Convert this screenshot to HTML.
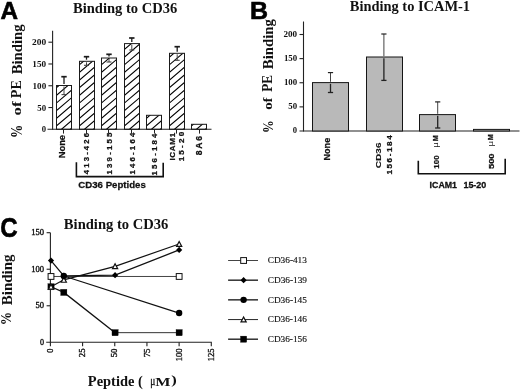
<!DOCTYPE html>
<html><head><meta charset="utf-8"><style>
html,body{margin:0;padding:0;background:#fff;}
body{width:520px;height:390px;overflow:hidden;font-family:"Liberation Sans",sans-serif;}
svg{display:block;will-change:transform;}
</style></head><body>
<svg width="520" height="390" viewBox="0 0 520 390">

<rect width="520" height="390" fill="#fff"/>
<text transform="translate(0.51 18.50) scale(0.9933 1)" font-family="'Liberation Sans', sans-serif" font-weight="bold" font-size="24.43" fill="#000" stroke="#000" stroke-width="0.6" xml:space="preserve">A</text>
<text transform="translate(72.95 12.87) scale(1.0086 1)" font-family="'Liberation Serif', serif" font-weight="bold" font-size="14.44" fill="#111" xml:space="preserve">Binding to CD36</text>
<text transform="translate(21.78 138.12) rotate(-90) scale(0.8317 1)" font-family="'Liberation Serif', serif" font-weight="bold" font-size="15.88" fill="#111" xml:space="preserve">%</text>
<text transform="translate(21.47 115.40) rotate(-90) scale(1.2891 1)" font-family="'Liberation Serif', serif" font-weight="bold" font-size="13.06" fill="#111" xml:space="preserve">of</text>
<text transform="translate(21.26 98.14) rotate(-90) scale(1.0048 1)" font-family="'Liberation Serif', serif" font-weight="bold" font-size="13.94" fill="#111" xml:space="preserve">PE</text>
<text transform="translate(21.78 74.35) rotate(-90) scale(0.9606 1)" font-family="'Liberation Serif', serif" font-weight="bold" font-size="15.33" fill="#111" xml:space="preserve">Binding</text>
<line x1="52.60" y1="30.80" x2="52.60" y2="129.80" stroke="#222" stroke-width="1.1"/>
<line x1="47.50" y1="129.30" x2="211.50" y2="129.30" stroke="#222" stroke-width="1.1"/>
<line x1="48.40" y1="107.53" x2="52.60" y2="107.53" stroke="#222" stroke-width="1.1"/>
<line x1="48.40" y1="85.75" x2="52.60" y2="85.75" stroke="#222" stroke-width="1.1"/>
<line x1="48.40" y1="63.98" x2="52.60" y2="63.98" stroke="#222" stroke-width="1.1"/>
<line x1="48.40" y1="42.20" x2="52.60" y2="42.20" stroke="#222" stroke-width="1.1"/>
<text transform="translate(41.84 132.44) scale(1.0875 1)" font-family="'Liberation Serif', serif" font-weight="bold" font-size="7.94" fill="#111" xml:space="preserve">0</text>
<text transform="translate(37.35 110.67) scale(1.1103 1)" font-family="'Liberation Serif', serif" font-weight="bold" font-size="7.94" fill="#111" xml:space="preserve">50</text>
<text transform="translate(32.57 88.89) scale(1.1415 1)" font-family="'Liberation Serif', serif" font-weight="bold" font-size="7.94" fill="#111" xml:space="preserve">100</text>
<text transform="translate(32.36 67.12) scale(1.1596 1)" font-family="'Liberation Serif', serif" font-weight="bold" font-size="7.94" fill="#111" xml:space="preserve">150</text>
<text transform="translate(32.02 45.34) scale(1.1888 1)" font-family="'Liberation Serif', serif" font-weight="bold" font-size="7.94" fill="#111" xml:space="preserve">200</text>
<clipPath id="c0"><rect x="56.50" y="85.50" width="15" height="43.80"/></clipPath>
<path clip-path="url(#c0)" d="M55.50 149.70 L72.50 135.18 M55.50 142.05 L72.50 127.53 M55.50 134.40 L72.50 119.88 M55.50 126.75 L72.50 112.23 M55.50 119.10 L72.50 104.58 M55.50 111.45 L72.50 96.93 M55.50 103.80 L72.50 89.28 M55.50 96.15 L72.50 81.63 M55.50 88.50 L72.50 73.98 M55.50 80.85 L72.50 66.33 M55.50 73.20 L72.50 58.68 M55.50 65.55 L72.50 51.03" stroke="#000" stroke-width="1.1" fill="none"/>
<rect x="56.50" y="85.50" width="15.00" height="43.80" fill="none" stroke="#1a1a1a" stroke-width="1.0"/>
<line x1="63.50" y1="129.30" x2="63.50" y2="133.60" stroke="#222" stroke-width="1.0"/>
<line x1="64.00" y1="76.70" x2="64.00" y2="83.90" stroke="#1a1a1a" stroke-width="1.3"/>
<line x1="61.30" y1="76.70" x2="66.70" y2="76.70" stroke="#1a1a1a" stroke-width="1.7"/>
<line x1="64.00" y1="86.50" x2="64.00" y2="94.60" stroke="#444" stroke-width="1.0"/>
<line x1="61.50" y1="94.60" x2="66.50" y2="94.60" stroke="#444" stroke-width="1.1"/>
<clipPath id="c1"><rect x="79.50" y="61.30" width="15" height="68.00"/></clipPath>
<path clip-path="url(#c1)" d="M78.50 149.70 L95.50 135.18 M78.50 142.05 L95.50 127.53 M78.50 134.40 L95.50 119.88 M78.50 126.75 L95.50 112.23 M78.50 119.10 L95.50 104.58 M78.50 111.45 L95.50 96.93 M78.50 103.80 L95.50 89.28 M78.50 96.15 L95.50 81.63 M78.50 88.50 L95.50 73.98 M78.50 80.85 L95.50 66.33 M78.50 73.20 L95.50 58.68 M78.50 65.55 L95.50 51.03 M78.50 57.90 L95.50 43.38 M78.50 50.25 L95.50 35.73 M78.50 42.60 L95.50 28.08" stroke="#000" stroke-width="1.1" fill="none"/>
<rect x="79.50" y="61.30" width="15.00" height="68.00" fill="none" stroke="#1a1a1a" stroke-width="1.0"/>
<line x1="86.50" y1="129.30" x2="86.50" y2="133.60" stroke="#222" stroke-width="1.0"/>
<line x1="86.50" y1="56.70" x2="86.50" y2="59.70" stroke="#1a1a1a" stroke-width="1.3"/>
<line x1="83.80" y1="56.70" x2="89.20" y2="56.70" stroke="#1a1a1a" stroke-width="1.7"/>
<line x1="86.50" y1="62.30" x2="86.50" y2="65.30" stroke="#444" stroke-width="1.0"/>
<line x1="84.00" y1="65.30" x2="89.00" y2="65.30" stroke="#444" stroke-width="1.1"/>
<clipPath id="c2"><rect x="101.50" y="58.00" width="15" height="71.30"/></clipPath>
<path clip-path="url(#c2)" d="M100.50 149.70 L117.50 135.18 M100.50 142.05 L117.50 127.53 M100.50 134.40 L117.50 119.88 M100.50 126.75 L117.50 112.23 M100.50 119.10 L117.50 104.58 M100.50 111.45 L117.50 96.93 M100.50 103.80 L117.50 89.28 M100.50 96.15 L117.50 81.63 M100.50 88.50 L117.50 73.98 M100.50 80.85 L117.50 66.33 M100.50 73.20 L117.50 58.68 M100.50 65.55 L117.50 51.03 M100.50 57.90 L117.50 43.38 M100.50 50.25 L117.50 35.73 M100.50 42.60 L117.50 28.08" stroke="#000" stroke-width="1.1" fill="none"/>
<rect x="101.50" y="58.00" width="15.00" height="71.30" fill="none" stroke="#1a1a1a" stroke-width="1.0"/>
<line x1="108.50" y1="129.30" x2="108.50" y2="133.60" stroke="#222" stroke-width="1.0"/>
<line x1="109.00" y1="54.30" x2="109.00" y2="56.40" stroke="#1a1a1a" stroke-width="1.3"/>
<line x1="106.30" y1="54.30" x2="111.70" y2="54.30" stroke="#1a1a1a" stroke-width="1.7"/>
<line x1="109.00" y1="59.00" x2="109.00" y2="62.00" stroke="#444" stroke-width="1.0"/>
<line x1="106.50" y1="62.00" x2="111.50" y2="62.00" stroke="#444" stroke-width="1.1"/>
<clipPath id="c3"><rect x="124.50" y="43.60" width="15" height="85.70"/></clipPath>
<path clip-path="url(#c3)" d="M123.50 149.70 L140.50 135.18 M123.50 142.05 L140.50 127.53 M123.50 134.40 L140.50 119.88 M123.50 126.75 L140.50 112.23 M123.50 119.10 L140.50 104.58 M123.50 111.45 L140.50 96.93 M123.50 103.80 L140.50 89.28 M123.50 96.15 L140.50 81.63 M123.50 88.50 L140.50 73.98 M123.50 80.85 L140.50 66.33 M123.50 73.20 L140.50 58.68 M123.50 65.55 L140.50 51.03 M123.50 57.90 L140.50 43.38 M123.50 50.25 L140.50 35.73 M123.50 42.60 L140.50 28.08 M123.50 34.95 L140.50 20.43 M123.50 27.30 L140.50 12.78" stroke="#000" stroke-width="1.1" fill="none"/>
<rect x="124.50" y="43.60" width="15.00" height="85.70" fill="none" stroke="#1a1a1a" stroke-width="1.0"/>
<line x1="131.50" y1="129.30" x2="131.50" y2="133.60" stroke="#222" stroke-width="1.0"/>
<line x1="131.80" y1="38.00" x2="131.80" y2="42.00" stroke="#1a1a1a" stroke-width="1.3"/>
<line x1="129.10" y1="38.00" x2="134.50" y2="38.00" stroke="#1a1a1a" stroke-width="1.7"/>
<line x1="131.80" y1="44.60" x2="131.80" y2="50.00" stroke="#444" stroke-width="1.0"/>
<line x1="129.30" y1="50.00" x2="134.30" y2="50.00" stroke="#444" stroke-width="1.1"/>
<clipPath id="c4"><rect x="146.50" y="115.30" width="15" height="14.00"/></clipPath>
<path clip-path="url(#c4)" d="M145.50 149.70 L162.50 135.18 M145.50 142.05 L162.50 127.53 M145.50 134.40 L162.50 119.88 M145.50 126.75 L162.50 112.23 M145.50 119.10 L162.50 104.58 M145.50 111.45 L162.50 96.93 M145.50 103.80 L162.50 89.28 M145.50 96.15 L162.50 81.63" stroke="#000" stroke-width="1.1" fill="none"/>
<rect x="146.50" y="115.30" width="15.00" height="14.00" fill="none" stroke="#1a1a1a" stroke-width="1.0"/>
<line x1="154.50" y1="129.30" x2="154.50" y2="133.60" stroke="#222" stroke-width="1.0"/>
<clipPath id="c5"><rect x="169.50" y="53.30" width="15" height="76.00"/></clipPath>
<path clip-path="url(#c5)" d="M168.50 149.70 L185.50 135.18 M168.50 142.05 L185.50 127.53 M168.50 134.40 L185.50 119.88 M168.50 126.75 L185.50 112.23 M168.50 119.10 L185.50 104.58 M168.50 111.45 L185.50 96.93 M168.50 103.80 L185.50 89.28 M168.50 96.15 L185.50 81.63 M168.50 88.50 L185.50 73.98 M168.50 80.85 L185.50 66.33 M168.50 73.20 L185.50 58.68 M168.50 65.55 L185.50 51.03 M168.50 57.90 L185.50 43.38 M168.50 50.25 L185.50 35.73 M168.50 42.60 L185.50 28.08 M168.50 34.95 L185.50 20.43" stroke="#000" stroke-width="1.1" fill="none"/>
<rect x="169.50" y="53.30" width="15.00" height="76.00" fill="none" stroke="#1a1a1a" stroke-width="1.0"/>
<line x1="176.50" y1="129.30" x2="176.50" y2="133.60" stroke="#222" stroke-width="1.0"/>
<line x1="177.20" y1="46.70" x2="177.20" y2="51.70" stroke="#1a1a1a" stroke-width="1.3"/>
<line x1="174.50" y1="46.70" x2="179.90" y2="46.70" stroke="#1a1a1a" stroke-width="1.7"/>
<line x1="177.20" y1="54.30" x2="177.20" y2="60.30" stroke="#444" stroke-width="1.0"/>
<line x1="174.70" y1="60.30" x2="179.70" y2="60.30" stroke="#444" stroke-width="1.1"/>
<clipPath id="c6"><rect x="191.50" y="124.30" width="15" height="5.00"/></clipPath>
<path clip-path="url(#c6)" d="M190.50 149.70 L207.50 135.18 M190.50 142.05 L207.50 127.53 M190.50 134.40 L207.50 119.88 M190.50 126.75 L207.50 112.23 M190.50 119.10 L207.50 104.58 M190.50 111.45 L207.50 96.93" stroke="#000" stroke-width="1.1" fill="none"/>
<rect x="191.50" y="124.30" width="15.00" height="5.00" fill="none" stroke="#1a1a1a" stroke-width="1.0"/>
<line x1="199.50" y1="129.30" x2="199.50" y2="133.60" stroke="#222" stroke-width="1.0"/>
<text transform="translate(65.49 158.34) rotate(-90) scale(1.1197 1)" font-family="'Liberation Sans', sans-serif" font-weight="bold" font-size="8.38" fill="#111" stroke="#111" stroke-width="0.25" xml:space="preserve">None</text>
<text transform="translate(88.60 174.15) rotate(-90) scale(1.0442 1)" font-family="'Liberation Sans', sans-serif" font-weight="bold" font-size="7.39" fill="#111" stroke="#111" stroke-width="0.25" xml:space="preserve">4 1 3 - 4 2 6</text>
<text transform="translate(111.60 174.55) rotate(-90) scale(1.0676 1)" font-family="'Liberation Sans', sans-serif" font-weight="bold" font-size="7.39" fill="#111" stroke="#111" stroke-width="0.25" xml:space="preserve">1 3 9 - 1 5 5</text>
<text transform="translate(135.00 174.55) rotate(-90) scale(1.0821 1)" font-family="'Liberation Sans', sans-serif" font-weight="bold" font-size="7.25" fill="#111" stroke="#111" stroke-width="0.25" xml:space="preserve">1 4 6 - 1 6 4</text>
<text transform="translate(157.01 175.45) rotate(-90) scale(1.1491 1)" font-family="'Liberation Sans', sans-serif" font-weight="bold" font-size="6.83" fill="#111" stroke="#111" stroke-width="0.25" xml:space="preserve">1 5 6 - 1 8 4</text>
<text transform="translate(174.70 160.56) rotate(-90) scale(1.0890 1)" font-family="'Liberation Sans', sans-serif" font-weight="bold" font-size="7.39" fill="#111" stroke="#111" stroke-width="0.25" xml:space="preserve">I C A M 1</text>
<text transform="translate(184.21 161.36) rotate(-90) scale(1.2839 1)" font-family="'Liberation Sans', sans-serif" font-weight="bold" font-size="6.27" fill="#111" stroke="#111" stroke-width="0.25" xml:space="preserve">1 5 - 2 0</text>
<text transform="translate(202.09 155.13) rotate(-90) scale(1.0262 1)" font-family="'Liberation Sans', sans-serif" font-weight="bold" font-size="8.38" fill="#111" stroke="#111" stroke-width="0.25" xml:space="preserve">8 A 6</text>
<path d="M76.4 162.3 V176.6 H163.2 V162.8" fill="none" stroke="#111" stroke-width="1.6"/>
<text transform="translate(78.34 187.85) scale(1.0025 1)" font-family="'Liberation Sans', sans-serif" font-weight="bold" font-size="9.63" fill="#111" stroke="#111" stroke-width="0.25" xml:space="preserve">CD36 Peptides</text>
<text transform="translate(250.00 18.60) scale(1.0147 1)" font-family="'Liberation Sans', sans-serif" font-weight="bold" font-size="24.64" fill="#000" stroke="#000" stroke-width="0.6" xml:space="preserve">B</text>
<text transform="translate(349.76 11.48) scale(1.0407 1)" font-family="'Liberation Serif', serif" font-weight="bold" font-size="13.89" fill="#111" xml:space="preserve">Binding to ICAM-1</text>
<text transform="translate(272.70 133.07) rotate(-90) scale(0.8395 1)" font-family="'Liberation Serif', serif" font-weight="bold" font-size="15.15" fill="#111" xml:space="preserve">%</text>
<text transform="translate(272.18 109.85) rotate(-90) scale(1.1902 1)" font-family="'Liberation Serif', serif" font-weight="bold" font-size="12.50" fill="#111" xml:space="preserve">of</text>
<text transform="translate(272.16 91.83) rotate(-90) scale(0.9671 1)" font-family="'Liberation Serif', serif" font-weight="bold" font-size="13.64" fill="#111" xml:space="preserve">PE</text>
<text transform="translate(272.88 69.15) rotate(-90) scale(1.0626 1)" font-family="'Liberation Serif', serif" font-weight="bold" font-size="13.89" fill="#111" xml:space="preserve">Binding</text>
<line x1="303.50" y1="21.50" x2="303.50" y2="131.50" stroke="#222" stroke-width="1.1"/>
<line x1="299.50" y1="131.00" x2="519.50" y2="131.00" stroke="#222" stroke-width="1.1"/>
<line x1="299.50" y1="106.88" x2="303.50" y2="106.88" stroke="#222" stroke-width="1.1"/>
<line x1="299.50" y1="82.75" x2="303.50" y2="82.75" stroke="#222" stroke-width="1.1"/>
<line x1="299.50" y1="58.62" x2="303.50" y2="58.62" stroke="#222" stroke-width="1.1"/>
<line x1="299.50" y1="34.50" x2="303.50" y2="34.50" stroke="#222" stroke-width="1.1"/>
<text transform="translate(292.84 133.45) scale(1.1294 1)" font-family="'Liberation Serif', serif" font-weight="bold" font-size="7.65" fill="#111" xml:space="preserve">0</text>
<text transform="translate(288.35 109.32) scale(1.1530 1)" font-family="'Liberation Serif', serif" font-weight="bold" font-size="7.65" fill="#111" xml:space="preserve">50</text>
<text transform="translate(283.89 85.20) scale(1.1572 1)" font-family="'Liberation Serif', serif" font-weight="bold" font-size="7.65" fill="#111" xml:space="preserve">100</text>
<text transform="translate(283.89 61.07) scale(1.1572 1)" font-family="'Liberation Serif', serif" font-weight="bold" font-size="7.65" fill="#111" xml:space="preserve">150</text>
<text transform="translate(283.54 36.95) scale(1.1888 1)" font-family="'Liberation Serif', serif" font-weight="bold" font-size="7.65" fill="#111" xml:space="preserve">200</text>
<rect x="312.50" y="82.60" width="36.00" height="48.40" fill="#b9b9b9" stroke="#151515" stroke-width="1.0"/>
<line x1="330.50" y1="72.60" x2="330.50" y2="81.80" stroke="#444" stroke-width="1.0"/>
<line x1="327.90" y1="72.60" x2="333.10" y2="72.60" stroke="#222" stroke-width="1.2"/>
<line x1="330.50" y1="83.80" x2="330.50" y2="92.50" stroke="#222" stroke-width="1.3"/>
<line x1="327.90" y1="92.50" x2="333.10" y2="92.50" stroke="#222" stroke-width="1.3"/>
<rect x="366.50" y="57.00" width="36.00" height="74.00" fill="#b9b9b9" stroke="#151515" stroke-width="1.0"/>
<line x1="383.90" y1="34.00" x2="383.90" y2="56.20" stroke="#444" stroke-width="1.0"/>
<line x1="381.30" y1="34.00" x2="386.50" y2="34.00" stroke="#222" stroke-width="1.2"/>
<line x1="383.90" y1="58.20" x2="383.90" y2="80.40" stroke="#222" stroke-width="1.3"/>
<line x1="381.30" y1="80.40" x2="386.50" y2="80.40" stroke="#222" stroke-width="1.3"/>
<rect x="419.50" y="114.60" width="36.00" height="16.40" fill="#b9b9b9" stroke="#151515" stroke-width="1.0"/>
<line x1="437.70" y1="101.90" x2="437.70" y2="113.80" stroke="#444" stroke-width="1.0"/>
<line x1="435.10" y1="101.90" x2="440.30" y2="101.90" stroke="#222" stroke-width="1.2"/>
<line x1="437.70" y1="115.80" x2="437.70" y2="128.00" stroke="#222" stroke-width="1.3"/>
<line x1="435.10" y1="128.00" x2="440.30" y2="128.00" stroke="#222" stroke-width="1.3"/>
<rect x="473.50" y="129.40" width="36.00" height="1.60" fill="#b9b9b9" stroke="#151515" stroke-width="1.0"/>
<text transform="translate(330.39 160.42) rotate(-90) scale(1.0623 1)" font-family="'Liberation Sans', sans-serif" font-weight="bold" font-size="8.52" fill="#111" stroke="#111" stroke-width="0.25" xml:space="preserve">None</text>
<text transform="translate(380.87 168.15) rotate(-90) scale(1.2727 1)" font-family="'Liberation Sans', sans-serif" font-weight="bold" font-size="7.89" fill="#111" stroke="#111" stroke-width="0.1" xml:space="preserve">CD36</text>
<text transform="translate(392.41 174.56) rotate(-90) scale(1.1573 1)" font-family="'Liberation Sans', sans-serif" font-weight="bold" font-size="6.97" fill="#111" stroke="#111" stroke-width="0.25" xml:space="preserve">1 5 6 - 1 8 4</text>
<text transform="translate(438.07 141.31) rotate(-90) scale(0.9491 1)" font-family="'Liberation Sans', sans-serif" font-weight="bold" font-size="7.64" fill="#111" stroke="#111" stroke-width="0.25" xml:space="preserve">M</text>
<text transform="translate(438.38 147.69) rotate(-90) scale(1.2098 1)" font-family="'Liberation Sans', sans-serif" font-weight="normal" font-size="8.08" fill="#111" xml:space="preserve">μ</text>
<text transform="translate(438.50 168.65) rotate(-90) scale(0.9950 1)" font-family="'Liberation Sans', sans-serif" font-weight="bold" font-size="7.96" fill="#111" stroke="#111" stroke-width="0.25" xml:space="preserve">100</text>
<text transform="translate(492.98 140.21) rotate(-90) scale(0.9491 1)" font-family="'Liberation Sans', sans-serif" font-weight="bold" font-size="7.64" fill="#111" stroke="#111" stroke-width="0.25" xml:space="preserve">M</text>
<text transform="translate(493.28 146.59) rotate(-90) scale(1.2098 1)" font-family="'Liberation Sans', sans-serif" font-weight="normal" font-size="8.08" fill="#111" xml:space="preserve">μ</text>
<text transform="translate(493.90 169.05) rotate(-90) scale(1.1725 1)" font-family="'Liberation Sans', sans-serif" font-weight="bold" font-size="7.96" fill="#111" stroke="#111" stroke-width="0.25" xml:space="preserve">500</text>
<path d="M418.3 160.7 V173.8 H505.2 V158.8" fill="none" stroke="#111" stroke-width="1.6"/>
<text transform="translate(429.62 187.66) scale(0.9605 1)" font-family="'Liberation Sans', sans-serif" font-weight="bold" font-size="9.15" fill="#111" stroke="#111" stroke-width="0.3" xml:space="preserve">ICAM1</text>
<text transform="translate(463.41 187.66) scale(0.9807 1)" font-family="'Liberation Sans', sans-serif" font-weight="bold" font-size="9.15" fill="#111" stroke="#111" stroke-width="0.3" xml:space="preserve">15-20</text>
<text transform="translate(0.14 237.23) scale(0.9002 1)" font-family="'Liberation Sans', sans-serif" font-weight="bold" font-size="26.76" fill="#000" stroke="#000" stroke-width="0.6" xml:space="preserve">C</text>
<text transform="translate(63.85 228.69) scale(1.0184 1)" font-family="'Liberation Serif', serif" font-weight="bold" font-size="14.33" fill="#111" xml:space="preserve">Binding to CD36</text>
<text transform="translate(12.00 305.15) rotate(-90) scale(0.9831 1)" font-family="'Liberation Serif', serif" font-weight="bold" font-size="15.22" fill="#111" xml:space="preserve">Binding</text>
<text transform="translate(10.51 325.33) rotate(-90) scale(0.9252 1)" font-family="'Liberation Serif', serif" font-weight="bold" font-size="14.41" fill="#111" xml:space="preserve">%</text>
<line x1="50.40" y1="232.70" x2="50.40" y2="342.80" stroke="#222" stroke-width="1.1"/>
<line x1="46.20" y1="342.30" x2="211.80" y2="342.30" stroke="#222" stroke-width="1.1"/>
<line x1="46.60" y1="305.77" x2="50.40" y2="305.77" stroke="#222" stroke-width="1.1"/>
<line x1="46.60" y1="269.23" x2="50.40" y2="269.23" stroke="#222" stroke-width="1.1"/>
<line x1="46.60" y1="232.70" x2="50.40" y2="232.70" stroke="#222" stroke-width="1.1"/>
<text transform="translate(40.03 344.96) scale(0.9885 1)" font-family="'Liberation Serif', serif" font-weight="normal" font-size="8.16" fill="#111" stroke="#111" stroke-width="0.35" xml:space="preserve">0</text>
<text transform="translate(35.55 308.43) scale(1.0454 1)" font-family="'Liberation Serif', serif" font-weight="normal" font-size="8.16" fill="#111" stroke="#111" stroke-width="0.35" xml:space="preserve">50</text>
<text transform="translate(31.29 271.90) scale(1.0445 1)" font-family="'Liberation Serif', serif" font-weight="normal" font-size="8.16" fill="#111" stroke="#111" stroke-width="0.35" xml:space="preserve">100</text>
<text transform="translate(31.29 235.36) scale(1.0445 1)" font-family="'Liberation Serif', serif" font-weight="normal" font-size="8.16" fill="#111" stroke="#111" stroke-width="0.35" xml:space="preserve">150</text>
<line x1="50.40" y1="342.30" x2="50.40" y2="346.30" stroke="#222" stroke-width="1.1"/>
<text transform="translate(52.96 352.67) rotate(-90) scale(1.0350 1)" font-family="'Liberation Serif', serif" font-weight="normal" font-size="8.01" fill="#111" stroke="#111" stroke-width="0.35" xml:space="preserve">0</text>
<line x1="82.58" y1="342.30" x2="82.58" y2="346.30" stroke="#222" stroke-width="1.1"/>
<text transform="translate(85.14 357.17) rotate(-90) scale(1.0800 1)" font-family="'Liberation Serif', serif" font-weight="normal" font-size="8.01" fill="#111" stroke="#111" stroke-width="0.35" xml:space="preserve">25</text>
<line x1="114.76" y1="342.30" x2="114.76" y2="346.30" stroke="#222" stroke-width="1.1"/>
<text transform="translate(117.32 357.26) rotate(-90) scale(1.0917 1)" font-family="'Liberation Serif', serif" font-weight="normal" font-size="8.01" fill="#111" stroke="#111" stroke-width="0.35" xml:space="preserve">50</text>
<line x1="146.94" y1="342.30" x2="146.94" y2="346.30" stroke="#222" stroke-width="1.1"/>
<text transform="translate(149.50 357.36) rotate(-90) scale(1.0875 1)" font-family="'Liberation Serif', serif" font-weight="normal" font-size="8.13" fill="#111" stroke="#111" stroke-width="0.35" xml:space="preserve">75</text>
<line x1="179.12" y1="342.30" x2="179.12" y2="346.30" stroke="#222" stroke-width="1.1"/>
<text transform="translate(181.68 361.31) rotate(-90) scale(1.0637 1)" font-family="'Liberation Serif', serif" font-weight="normal" font-size="8.01" fill="#111" stroke="#111" stroke-width="0.35" xml:space="preserve">100</text>
<line x1="211.30" y1="342.30" x2="211.30" y2="346.30" stroke="#222" stroke-width="1.1"/>
<text transform="translate(213.86 361.31) rotate(-90) scale(1.0637 1)" font-family="'Liberation Serif', serif" font-weight="normal" font-size="8.01" fill="#111" stroke="#111" stroke-width="0.35" xml:space="preserve">125</text>
<text transform="translate(87.86 386.40) scale(0.9921 1)" font-family="'Liberation Serif', serif" font-weight="bold" font-size="14.57" fill="#111" xml:space="preserve">Peptide (</text>
<text transform="translate(150.32 385.08) scale(0.7201 1)" font-family="'Liberation Serif', serif" font-weight="normal" font-size="13.06" fill="#111" stroke="#111" stroke-width="0.35" xml:space="preserve">μ</text>
<text transform="translate(155.34 385.57) scale(1.2115 1)" font-family="'Liberation Serif', serif" font-weight="bold" font-size="13.33" fill="#111" xml:space="preserve">M</text>
<text transform="translate(171.30 384.42) scale(1.4088 1)" font-family="'Liberation Serif', serif" font-weight="bold" font-size="11.74" fill="#111" xml:space="preserve">)</text>
<path d="M51.00 276.47 L179.15 276.47" fill="none" stroke="#444" stroke-width="1.0"/>
<path d="M63.81 276.03 L179.15 313.07" fill="none" stroke="#111" stroke-width="1.2"/>
<path d="M51.00 286.77 L63.81 292.40 L115.08 332.66" fill="none" stroke="#111" stroke-width="1.3"/>
<path d="M115.08 332.66 L179.15 332.66" fill="none" stroke="#333" stroke-width="1.0"/>
<path d="M51.00 260.61 L63.81 275.81 L115.08 275.15 L179.15 249.94" fill="none" stroke="#111" stroke-width="1.3"/>
<path d="M51.00 286.77 L63.81 279.83 L115.08 266.31 L179.15 244.03" fill="none" stroke="#111" stroke-width="1.2"/>
<rect x="47.90" y="283.67" width="6.20" height="6.20" fill="#000" stroke="#000" stroke-width="0.3"/>
<rect x="60.71" y="289.30" width="6.20" height="6.20" fill="#000" stroke="#000" stroke-width="0.3"/>
<rect x="111.98" y="329.56" width="6.20" height="6.20" fill="#000" stroke="#000" stroke-width="0.3"/>
<rect x="176.05" y="329.56" width="6.20" height="6.20" fill="#000" stroke="#000" stroke-width="0.3"/>
<path d="M51.00 284.27 L53.60 289.17 L48.40 289.17 Z" fill="#fff" stroke="#111" stroke-width="1.2" stroke-linejoin="miter"/>
<path d="M63.81 277.33 L66.41 282.23 L61.21 282.23 Z" fill="#fff" stroke="#111" stroke-width="1.2" stroke-linejoin="miter"/>
<path d="M115.08 263.81 L117.67 268.71 L112.48 268.71 Z" fill="#fff" stroke="#111" stroke-width="1.2" stroke-linejoin="miter"/>
<path d="M179.15 241.53 L181.75 246.43 L176.55 246.43 Z" fill="#fff" stroke="#111" stroke-width="1.2" stroke-linejoin="miter"/>
<rect x="48.10" y="273.57" width="5.80" height="5.80" fill="#fff" stroke="#111" stroke-width="1.0"/>
<rect x="176.25" y="273.57" width="5.80" height="5.80" fill="#fff" stroke="#111" stroke-width="1.0"/>
<path d="M51.00 257.51 L54.10 260.61 L51.00 263.71 L47.90 260.61 Z" fill="#000"/>
<path d="M63.81 272.71 L66.91 275.81 L63.81 278.91 L60.71 275.81 Z" fill="#000"/>
<path d="M115.08 272.05 L118.17 275.15 L115.08 278.25 L111.98 275.15 Z" fill="#000"/>
<path d="M179.15 246.84 L182.25 249.94 L179.15 253.04 L176.05 249.94 Z" fill="#000"/>
<circle cx="63.81" cy="276.03" r="3.2" fill="#000"/>
<circle cx="179.15" cy="313.07" r="3.2" fill="#000"/>
<line x1="228.10" y1="260.50" x2="258.00" y2="260.50" stroke="#444" stroke-width="1.0"/>
<rect x="240.70" y="257.60" width="5.80" height="5.80" fill="#fff" stroke="#111" stroke-width="1.0"/>
<text transform="translate(267.70 263.24) scale(1.0292 1)" font-family="'Liberation Serif', serif" font-weight="normal" font-size="9.04" fill="#111" stroke="#111" stroke-width="0.15" xml:space="preserve">CD36-413</text>
<line x1="228.10" y1="280.18" x2="258.00" y2="280.18" stroke="#222" stroke-width="1.4"/>
<path d="M243.60 277.07 L246.70 280.18 L243.60 283.28 L240.50 280.18 Z" fill="#000"/>
<text transform="translate(267.70 282.92) scale(1.0317 1)" font-family="'Liberation Serif', serif" font-weight="normal" font-size="9.04" fill="#111" stroke="#111" stroke-width="0.15" xml:space="preserve">CD36-139</text>
<line x1="228.10" y1="299.85" x2="258.00" y2="299.85" stroke="#222" stroke-width="1.4"/>
<circle cx="243.60" cy="299.85" r="3.2" fill="#000"/>
<text transform="translate(267.70 302.59) scale(1.0292 1)" font-family="'Liberation Serif', serif" font-weight="normal" font-size="9.04" fill="#111" stroke="#111" stroke-width="0.15" xml:space="preserve">CD36-145</text>
<line x1="228.10" y1="319.52" x2="258.00" y2="319.52" stroke="#333" stroke-width="1.1"/>
<path d="M243.60 317.02 L246.20 321.92 L241.00 321.92 Z" fill="#fff" stroke="#111" stroke-width="1.2" stroke-linejoin="miter"/>
<text transform="translate(267.70 322.27) scale(1.0267 1)" font-family="'Liberation Serif', serif" font-weight="normal" font-size="9.04" fill="#111" stroke="#111" stroke-width="0.15" xml:space="preserve">CD36-146</text>
<line x1="228.10" y1="339.20" x2="258.00" y2="339.20" stroke="#222" stroke-width="1.4"/>
<rect x="240.50" y="336.10" width="6.20" height="6.20" fill="#000" stroke="#000" stroke-width="0.3"/>
<text transform="translate(267.70 341.94) scale(1.0267 1)" font-family="'Liberation Serif', serif" font-weight="normal" font-size="9.04" fill="#111" stroke="#111" stroke-width="0.15" xml:space="preserve">CD36-156</text>
</svg>
</body></html>
